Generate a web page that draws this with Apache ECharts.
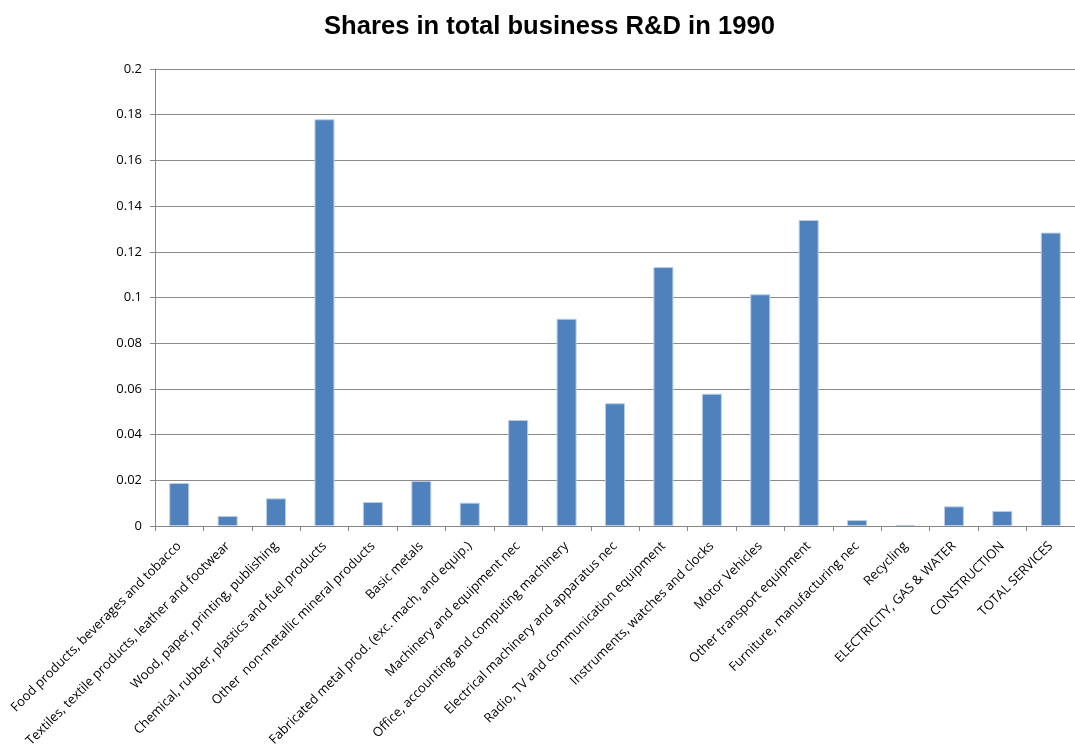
<!DOCTYPE html>
<html>
<head>
<meta charset="utf-8">
<script src="https://cdn.jsdelivr.net/npm/echarts@6/dist/echarts.min.js"></script>
<style>html,body{margin:0;padding:0;background:#fff;}#c{width:1075px;height:753px;}</style>
</head>
<body>
<div id="c"></div>
<script>
const titleText = "Shares in total business R&D in 1990";
const categories = [
  "Food products, beverages and tobacco",
  "Textiles, textile products, leather and footwear",
  "Wood, paper, printing, publishing",
  "Chemical, rubber, plastics and fuel products",
  "Other  non-metallic mineral products",
  "Basic metals",
  "Fabricated metal prod. (exc. mach, and equip.)",
  "Machinery and equipment nec",
  "Office, accounting and computing machinery",
  "Electrical machinery and apparatus nec",
  "Radio, TV and communication equipment",
  "Instruments, watches and clocks",
  "Motor Vehicles",
  "Other transport equipment",
  "Furniture, manufacturing nec",
  "Recycling",
  "ELECTRICITY, GAS & WATER",
  "CONSTRUCTION",
  "TOTAL SERVICES"
];
const shares = [0.0188, 0.0044, 0.0121, 0.178, 0.0105, 0.0197, 0.0102, 0.0464, 0.0907, 0.0537, 0.1133, 0.0579, 0.1014, 0.1339, 0.0026, 0.0004, 0.0086, 0.0066, 0.1284];
const yMin = 0, yMax = 0.2, yStep = 0.02;

const chart = echarts.init(document.getElementById('c'));
chart.setOption({
  animation: false,
  backgroundColor: '#fff',
  title: {
    text: titleText,
    left: 319, top: 9,
    textStyle: {fontFamily: 'Liberation Sans', fontWeight: 'bold', fontSize: 25.6, color: '#000'}
  },
  grid: {left: 155, right: 0, top: 69, bottom: 227, containLabel: false},
  xAxis: {
    type: 'category',
    data: categories,
    axisLine: {show: true, lineStyle: {color: '#868686', width: 1}},
    axisTick: {show: true, alignWithLabel: false, length: 5, lineStyle: {color: '#868686'}},
    axisLabel: {rotate: 45, interval: 0, margin: 18, fontFamily: 'Open Sans', fontSize: 13, color: '#000'},
    splitLine: {show: false}
  },
  yAxis: {
    type: 'value',
    min: yMin, max: yMax, interval: yStep,
    axisLine: {show: true, lineStyle: {color: '#868686', width: 1}},
    axisTick: {show: true, length: 5, lineStyle: {color: '#868686'}},
    axisLabel: {margin: 13, fontFamily: 'Open Sans', fontSize: 13, color: '#000',
      formatter: v => String(+v.toFixed(2))},
    splitLine: {show: true, lineStyle: {color: '#8c8c8c', width: 1}}
  },
  series: [{
    type: 'bar',
    data: shares,
    barWidth: 20,
    itemStyle: {color: '#4F81BD', borderColor: '#b9cde5', borderWidth: 1}
  }]
});
</script>
</body>
</html>
